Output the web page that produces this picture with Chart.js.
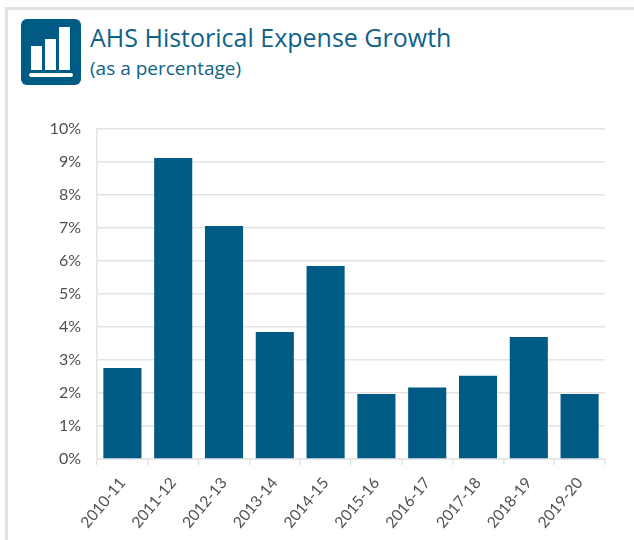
<!DOCTYPE html>
<html lang="en">
<head>
    <meta charset="UTF-8">
    <title>AHS Historical Expense Growth</title>
    <script src="https://cdn.jsdelivr.net/npm/chart.js"></script>
    <style>
        html, body { margin: 0; padding: 0; background: #fff; }
        #card { position: relative; width: 634px; height: 540px; overflow: hidden; }
        #frame { position: absolute; left: 5px; top: 7px; width: 640px; height: 560px; border: 3px solid #e2e2e2; box-sizing: border-box; }
        #icon { position: absolute; left: 21px; top: 19px; width: 60px; height: 66px; }
        h1, h2 { position: absolute; margin: 0; font-family: "Open Sans", sans-serif; font-weight: 400; color: #0f6288; white-space: nowrap; }
        h1 { left: 90px; top: 20px; font-size: 25px; line-height: 34px; }
        h2 { left: 90px; top: 55px; font-size: 19px; line-height: 26px; }
        #chartBox { position: absolute; left: 0; top: 0; width: 634px; height: 540px; }
    </style>
</head>
<body>
    <div id="card">
        <div id="frame"></div>
        <svg id="icon" viewBox="0 0 60 66">
            <rect width="60" height="66" rx="6" fill="#005b84"/>
            <rect x="10" y="27" width="11" height="24" fill="#fff"/>
            <rect x="24" y="20" width="11" height="31" fill="#fff"/>
            <rect x="38" y="8" width="11" height="43" fill="#fff"/>
            <rect x="8" y="54" width="44" height="4" rx="2" fill="#fff"/>
        </svg>
        <h1>AHS Historical Expense Growth</h1>
        <h2>(as a percentage)</h2>
        <div id="chartBox"><canvas id="expenseChart" width="634" height="540"></canvas></div>
    </div>

    <script>
const years = ["2010-11", "2011-12", "2012-13", "2013-14", "2014-15", "2015-16", "2016-17", "2017-18", "2018-19", "2019-20"];
const expenseGrowth = [2.76, 9.12, 7.06, 3.85, 5.85, 1.97, 2.17, 2.52, 3.7, 1.97];

const gridColor = "#e4e4e4";
const labelColor = "#4f4f4f";

new Chart(document.getElementById("expenseChart"), {
    type: "bar",
    data: {
        labels: years,
        datasets: [{
            data: expenseGrowth,
            backgroundColor: "#005b84",
            barPercentage: 0.75,
            categoryPercentage: 1
        }]
    },
    options: {
        responsive: false,
        animation: false,
        layout: { padding: { top: 129, right: 29, bottom: 0, left: 0 } },
        plugins: { legend: { display: false }, tooltip: { enabled: false } },
        scales: {
            x: {
                offset: true,
                afterFit: scale => { scale.height = 81; },
                grid: { color: gridColor, lineWidth: 1.5, drawOnChartArea: false, drawTicks: true, tickLength: 6, offset: true },
                border: { color: gridColor, width: 1.5 },
                ticks: { color: labelColor, font: { family: "Lato", size: 15.5 }, minRotation: 50, maxRotation: 50, padding: 9, autoSkip: false }
            },
            y: {
                min: 0,
                max: 10,
                afterFit: scale => { scale.width = 97; },
                grid: { color: gridColor, lineWidth: 1.5, drawTicks: false },
                border: { color: gridColor, width: 1.5 },
                ticks: { color: labelColor, font: { family: "Lato", size: 16 }, stepSize: 1, padding: 16, callback: value => value + "%" }
            }
        }
    }
});
    </script>
</body>
</html>
